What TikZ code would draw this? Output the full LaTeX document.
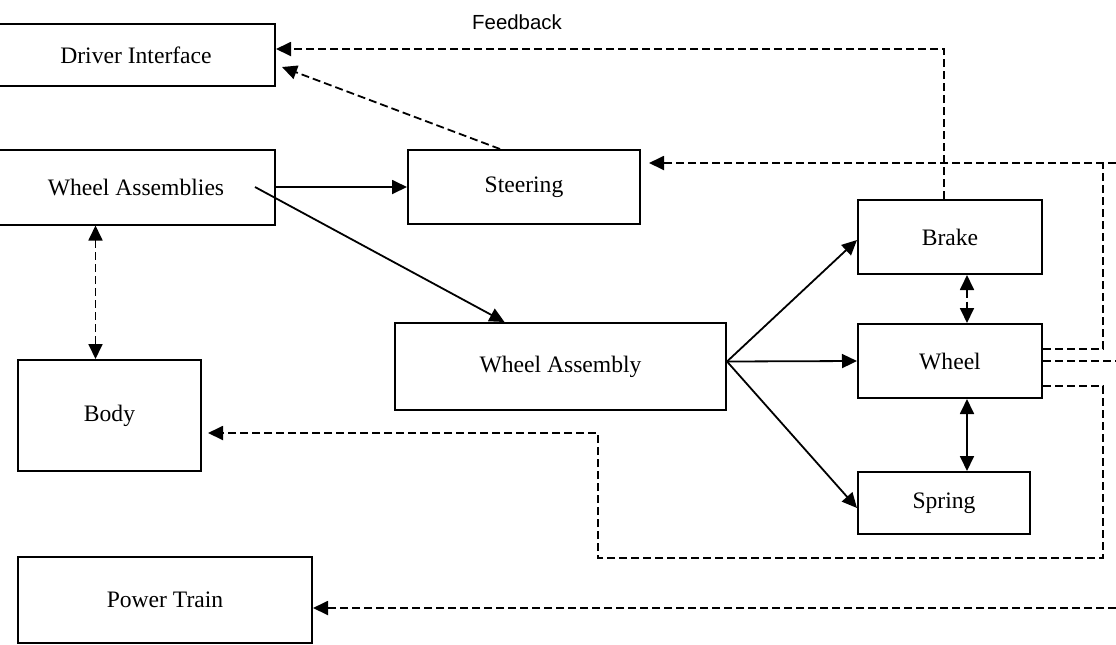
\documentclass[tikz,border=0pt]{standalone}
\usepackage{fontspec}
\setmainfont{Liberation Serif}
\newfontfamily\labelfont{Liberation Sans}
\usetikzlibrary{arrows.meta}
\tikzset{
  block/.style={draw, line width=1pt, inner sep=0pt, font=\fontsize{11.8}{14}\selectfont},
  onehead/.style={line width=0.9pt, -{Triangle[length=7.5pt,width=7pt]}},
  twoheads/.style={line width=0.9pt, {Triangle[length=7.5pt,width=7pt]}-{Triangle[length=7.5pt,width=7pt]}},
  dashline/.style={line width=0.9pt, dash pattern=on 4pt off 2pt}
}
\begin{document}
\begin{tikzpicture}[x=0.5pt,y=-0.5pt]
\useasboundingbox (0,0) rectangle (1116,644);
% blocks
\node[block, minimum width=139pt, minimum height=31pt] (driver) at (136,55) {Driver Interface};
\node[block, minimum width=139pt, minimum height=37.5pt] (assemblies) at (136,187) {Wheel Assemblies};
\node[block, minimum width=116pt, minimum height=37pt] (steering) at (524,187) {Steering};
\node[block, minimum width=165.5pt, minimum height=43.5pt] (assembly) at (560.5,366.5) {Wheel Assembly};
\node[block, minimum width=92pt, minimum height=37pt] (brake) at (950,237) {Brake};
\node[block, minimum width=92pt, minimum height=37pt] (wheel) at (950,361) {Wheel};
\node[block, minimum width=86pt, minimum height=31pt] (spring) at (944,503) {Spring};
\node[block, minimum width=91.5pt, minimum height=55.5pt] (body) at (109.5,415.5) {Body};
\node[block, minimum width=147pt, minimum height=43pt] (power) at (165,600) {Power Train};
\node[font=\labelfont\fontsize{10.2}{12}\selectfont] (feedback) at (517,22) {Feedback};
% loose ends at the right border
\coordinate (edgeS) at (1116,163);
\coordinate (edgeW) at (1116,361);
\coordinate (edgeP) at (1116,608);
\coordinate (fan) at ([yshift=2.5pt]assembly.east);
% forward links
\draw[onehead] (assemblies.east) -- (steering.west);
\draw[onehead] ([xshift=59.5pt]assemblies.center) -- ([xshift=-28pt]assembly.north);
\draw[onehead] (fan) -- ([yshift=-1.5pt]brake.west);
\draw[onehead] (fan) -- (wheel.west);
\draw[onehead] (fan) -- ([yshift=-2.5pt]spring.west);
\draw[twoheads] ([xshift=8.5pt]wheel.south) -- ([xshift=11.5pt]spring.north);
\draw[twoheads,dashline] ([xshift=8.5pt]brake.south) -- ([xshift=8.5pt]wheel.north);
\draw[twoheads,dashline] ([xshift=-7pt]body.north |- assemblies.south) -- ([xshift=-7pt]body.north);
% feedback
\draw[onehead,dashline] ([xshift=-3pt]brake.north) |- ([yshift=3pt]driver.east);
\draw[onehead,dashline] ([xshift=-12pt]steering.north) -- ([xshift=3pt,yshift=-6pt]driver.east);
\draw[onehead,dashline,shorten >=4pt] (edgeS) -- ([yshift=12pt]steering.east);
\draw[dashline] ([yshift=6pt]wheel.east) -| (1103,163);
\draw[dashline] (wheel.east) -- (edgeW);
\draw[onehead,dashline,shorten >=3pt] ([yshift=-12.5pt]wheel.east) -| (1103,558) -| (598,433) -- ([yshift=-8.75pt]body.east);
\draw[onehead,dashline] (edgeP) -- ([yshift=-4pt]power.east);
\end{tikzpicture}
\end{document}
